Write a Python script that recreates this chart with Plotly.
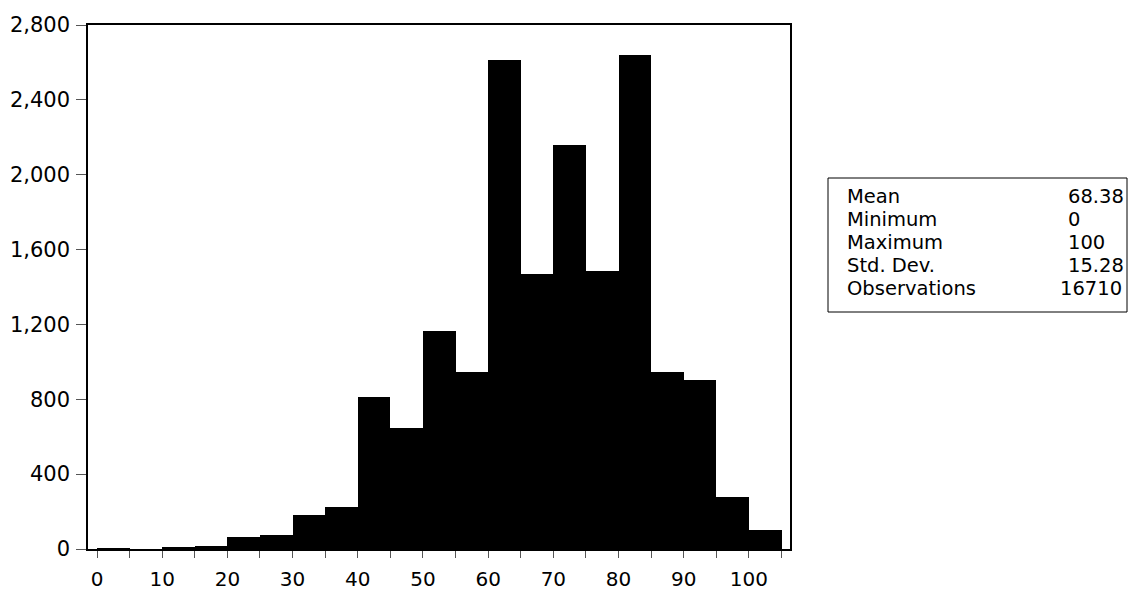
import plotly.graph_objects as go

# Histogram data (bin start, width 5)
bin_starts = [0, 5, 10, 15, 20, 25, 30, 35, 40, 45, 50, 55, 60, 65, 70, 75, 80, 85, 90, 95, 100]
counts = [4, 0, 8, 18, 62, 75, 183, 226, 812, 647, 1166, 948, 2612, 1468, 2158, 1486, 2638, 948, 901, 277, 100]
bin_width = 5

x_tickvals = list(range(0, 106, 5))
x_ticktext = [str(v) if v % 10 == 0 else "" for v in x_tickvals]
y_tickvals = [0, 400, 800, 1200, 1600, 2000, 2400, 2800]

stat_labels = ["Mean", "Minimum", "Maximum", "Std. Dev.", "Observations"]
stat_values = ["68.38", "0", "100", "15.28", "16710"]

W, H = 1141, 590
PLOT_L, PLOT_R, PLOT_T, PLOT_B = 88, 790, 25, 549
L, T, R, B = PLOT_L, PLOT_T, W - PLOT_R, H - PLOT_B
PW, PH = PLOT_R - PLOT_L, PLOT_B - PLOT_T

def px(xp):
    return (xp - PLOT_L) / PW

def py(yp):
    return (PLOT_B - yp) / PH

FONT = "DejaVu Sans"

fig = go.Figure()
fig.add_trace(go.Bar(
    x=[s + bin_width / 2 for s in bin_starts],
    y=counts,
    width=bin_width,
    marker=dict(color="black", line=dict(width=0)),
    hoverinfo="x+y",
))

fig.update_layout(
    width=W, height=H,
    margin=dict(l=L, r=R, t=T, b=B, autoexpand=False),
    paper_bgcolor="white", plot_bgcolor="white",
    showlegend=False, bargap=0,
    font=dict(family=FONT, size=21, color="black"),
)
fig.update_xaxes(
    range=[-1.38, 106.3], tickvals=x_tickvals, ticktext=x_ticktext,
    ticks="outside", ticklen=7, tickcolor="#555555", tickwidth=1,
    showline=True, linecolor="black", linewidth=1.5, mirror=True,
    showgrid=False, zeroline=False, tickfont=dict(size=20, family=FONT),
    ticklabelstandoff=4, automargin=False,
)
fig.update_yaxes(
    range=[0, 2800], tickvals=y_tickvals, tickformat=",",
    ticks="outside", ticklen=10, tickcolor="#555555", tickwidth=1,
    showline=True, linecolor="black", linewidth=1.5, mirror=True,
    showgrid=False, zeroline=False, tickfont=dict(size=21, family=FONT),
    ticklabelstandoff=2, automargin=False,
)

# Stats box
fig.add_shape(type="rect", xref="paper", yref="paper",
              x0=px(828), x1=px(1127), y0=py(312), y1=py(178),
              line=dict(color="black", width=1), fillcolor="white")

line_ys = [196, 219, 242, 265, 288]
for lab, val, yy in zip(stat_labels, stat_values, line_ys):
    fig.add_annotation(text=lab, xref="paper", yref="paper", x=px(845), y=py(yy),
                       xanchor="left", yanchor="middle", showarrow=False,
                       font=dict(size=19.5, family=FONT, color="black"))
    vx = 1058 if len(val) >= 5 and "." not in val else 1066
    fig.add_annotation(text=val, xref="paper", yref="paper", x=px(vx), y=py(yy),
                       xanchor="left", yanchor="middle", showarrow=False,
                       font=dict(size=19.5, family=FONT, color="black"))

fig.write_html("out.html", config={"displayModeBar": False},
               post_script="document.body.style.margin='0px';")
